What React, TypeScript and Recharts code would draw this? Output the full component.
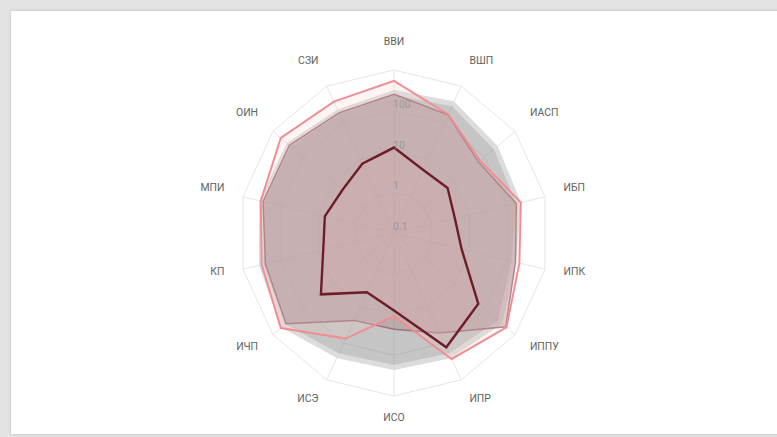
import React from 'react';
import { RadarChart, Radar, PolarGrid, PolarAngleAxis, PolarRadiusAxis } from 'recharts';

// categories go clockwise from the top
const categories = ['ВВИ', 'ВШП', 'ИАСП', 'ИБП', 'ИПК', 'ИППУ', 'ИПР', 'ИСО', 'ИСЭ', 'ИЧП', 'КП', 'МПИ', 'ОИН', 'СЗИ'];

const grayValues = [280, 330, 230, 200, 150, 320, 220, 200, 220, 450, 330, 320, 300, 200];
const roseValues = [255, 165, 62, 175, 165, 490, 53, 23, 24, 370, 255, 295, 285, 187];
const pinkValues = [540, 170, 70, 230, 210, 520, 270, 11, 75, 550, 320, 340, 550, 380];
const darkValues = [12.5, 5.3, 5.9, 4.1, 6.2, 61, 130, 8, 4.1, 26, 7.5, 6.8, 5, 7.7];

// log scale: the axis runs on log10 of the values
const radiusTicks = [0.1, 1, 10, 100, 1000];

const CX = 394;
const CY = 233;
const OUTER = 163;

const data = categories.map((name, i) => ({
  name,
  gray: Math.log10(grayValues[i]),
  rose: Math.log10(roseValues[i]),
  pink: Math.log10(pinkValues[i]),
  dark: Math.log10(darkValues[i]),
}));

function AngleTick({ x, y, payload }: any) {
  const dx = x - CX;
  const dy = y - CY;
  const len = Math.sqrt(dx * dx + dy * dy) || 1;
  const ux = dx / len;
  const uy = dy / len;
  const r = OUTER + 20;
  const px = CX + ux * r;
  const py = CY + uy * r + uy * 5 - 3.5;
  const anchor = Math.abs(ux) < 0.05 ? 'middle' : ux > 0 ? 'start' : 'end';
  return (
    <text x={px} y={py} textAnchor={anchor} dominantBaseline="central" fill="#616161" fontSize={11} fontFamily="Roboto, sans-serif">
      {payload.value}
    </text>
  );
}

function RadiusTick({ x, y, payload }: any) {
  const v = Math.pow(10, payload.value);
  if (v > 500) return <g />;
  const label = v < 1 ? '0.1' : String(Math.round(v));
  return (
    <text x={x - 1} y={y - 6.5} textAnchor="start" dominantBaseline="central" fill="#9a9a9a" fontSize={11} fontFamily="Roboto, sans-serif">
      {label}
    </text>
  );
}

export default function App() {
  const logTicks = radiusTicks.map((t) => Math.log10(t));
  return (
    <div style={{ position: 'relative', width: 777, height: 437, background: '#e3e3e3', overflow: 'hidden' }}>
      <style>{'body{margin:0}'}</style>
      <div
        style={{
          position: 'absolute',
          left: 11,
          top: 11,
          width: 790,
          height: 423,
          background: '#ffffff',
          boxShadow: '0 0 3px rgba(0,0,0,0.18)',
        }}
      />
      <div style={{ position: 'absolute', left: 0, top: 0, transform: 'scaleX(0.95)', transformOrigin: `${CX}px ${CY}px` }}>
        <RadarChart width={777} height={437} cx={CX} cy={CY} outerRadius={OUTER} data={data} margin={{ top: 0, right: 0, bottom: 0, left: 0 }}>
          <PolarGrid gridType="polygon" stroke="#e4e4e4" />
          <PolarAngleAxis dataKey="name" tick={<AngleTick />} tickLine={false} axisLine={false} />
          <PolarRadiusAxis
            angle={90}
            type="number"
            domain={[-1, 3]}
            ticks={logTicks}
            tickCount={5}
            axisLine={false}
            tick={<RadiusTick />}
          />
          <Radar dataKey="gray" stroke="#dcdcdc" strokeWidth={5} strokeLinejoin="round" fill="#8c8c8c" fillOpacity={0.5} isAnimationActive={false} />
          <Radar dataKey="rose" stroke="#a0737a" strokeWidth={1.5} fill="#b08489" fillOpacity={0.4} isAnimationActive={false} />
          <Radar dataKey="pink" stroke="#f28c8f" strokeWidth={2} fill="#f7c9ca" fillOpacity={0.2} isAnimationActive={false} />
          <Radar dataKey="dark" stroke="#6d1d28" strokeWidth={2.5} fill="#d4a9ad" fillOpacity={0.25} isAnimationActive={false} />
        </RadarChart>
      </div>
    </div>
  );
}
